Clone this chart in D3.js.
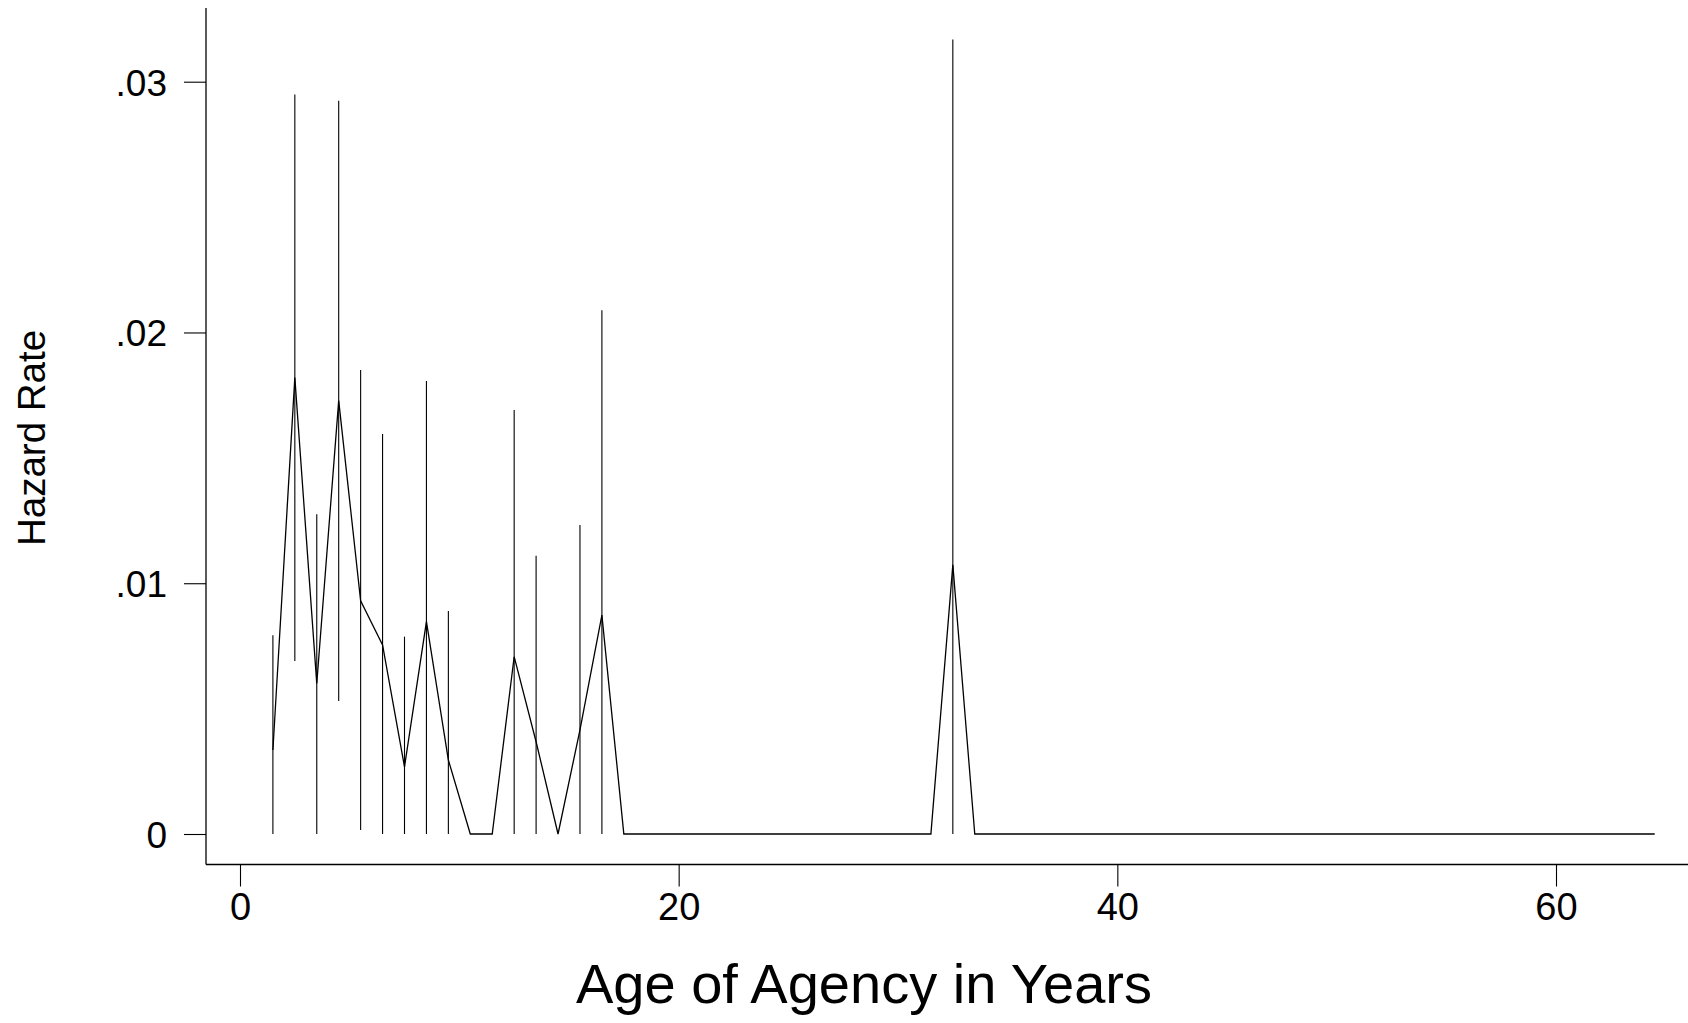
<!DOCTYPE html>
<html>
<head>
<meta charset="utf-8">
<script src="https://cdn.jsdelivr.net/npm/d3@7"></script>
<style>
  html, body { margin: 0; padding: 0; background: #fff; }
  svg { display: block; }
  text { font-family: "Liberation Sans", Arial, Helvetica, sans-serif; fill: #000; }
</style>
</head>
<body>
<svg id="chart" width="1688" height="1023"></svg>
<script>
// Life-table hazard estimates (interval midpoints)
const ages   = [1.5, 2.5, 3.5, 4.5, 5.5, 6.5, 7.5, 8.5, 9.5, 10.5, 11.5, 12.5, 13.5, 14.5, 15.5, 16.5, 17.5, 31.5, 32.5, 33.5, 64.5];
const hazard = [0.00335, 0.0182, 0.0060, 0.01728, 0.0093, 0.00754, 0.00268, 0.00847, 0.00295, 0, 0, 0.00707, 0.00368, 0, 0.00415, 0.00873, 0, 0, 0.01073, 0, 0];
// 95% confidence bounds (null = no interval drawn)
const ciLow  = [0, 0.0069, 0, 0.0053, 0.00016, 0, 0, 0, 0, null, null, 0, 0, null, 0, 0, null, null, 0, null, null];
const ciHigh = [0.00793, 0.02949, 0.01275, 0.02924, 0.0185, 0.01595, 0.00787, 0.01806, 0.00889, null, null, 0.01691, 0.0111, null, 0.01232, 0.02089, null, null, 0.03168, null, null];

const xTicks = [0, 20, 40, 60];
const yTicks = [0, 0.01, 0.02, 0.03];
const yTickLabels = ["0", ".01", ".02", ".03"];
const xTitle = "Age of Agency in Years";
const yTitle = "Hazard Rate";

const svg = d3.select("#chart");
svg.append("rect").attr("width", 1688).attr("height", 1023).attr("fill", "#fff");

const x = d3.scaleLinear().domain([0, 60]).range([240, 1556]);
const y = d3.scaleLinear().domain([0, 0.03]).range([834, 81.7]);

const axisX = 206, axisY = 864.5;

// Y axis
const gy = svg.append("g").attr("transform", `translate(${axisX},0)`)
  .call(d3.axisLeft(y).tickValues(yTicks).tickFormat((d, i) => yTickLabels[i]).tickSize(22).tickPadding(17));
gy.select(".domain").remove();
gy.selectAll(".tick line").attr("stroke", "#000").attr("stroke-width", 1.1);
gy.selectAll(".tick text").attr("font-size", 37).attr("font-family", "Liberation Sans, Arial, sans-serif").attr("fill", "#000").attr("dy", "0.36em");
svg.append("line").attr("x1", axisX).attr("x2", axisX).attr("y1", 8).attr("y2", axisY)
  .attr("stroke", "#000").attr("stroke-width", 1.3);

// X axis
const gx = svg.append("g").attr("transform", `translate(0,${axisY})`)
  .call(d3.axisBottom(x).tickValues(xTicks).tickFormat(d3.format("d")).tickSize(22).tickPadding(4));
gx.select(".domain").remove();
gx.selectAll(".tick line").attr("stroke", "#000").attr("stroke-width", 1.1);
gx.selectAll(".tick text").attr("font-size", 38).attr("font-family", "Liberation Sans, Arial, sans-serif").attr("fill", "#000").attr("dy", "0.78em");
svg.append("line").attr("x1", axisX).attr("x2", 1688).attr("y1", axisY).attr("y2", axisY)
  .attr("stroke", "#000").attr("stroke-width", 1.6);

// CI spikes
const ciData = ages.map((a, i) => ({a, lo: ciLow[i], hi: ciHigh[i]})).filter(d => d.hi !== null);
svg.append("g").selectAll("line").data(ciData).join("line")
  .attr("x1", d => x(d.a)).attr("x2", d => x(d.a))
  .attr("y1", d => y(d.lo)).attr("y2", d => y(d.hi))
  .attr("stroke", "#000").attr("stroke-width", 1.1);

// Hazard line
const pts = ages.map((a, i) => [a, hazard[i]]);
svg.append("path").datum(pts)
  .attr("fill", "none").attr("stroke", "#000").attr("stroke-width", 1.3)
  .attr("d", d3.line().x(d => x(d[0])).y(d => y(d[1])));

// Titles
svg.append("text").attr("x", 864).attr("y", 1003).attr("text-anchor", "middle")
  .attr("font-size", 56).text(xTitle);
svg.append("text").attr("transform", "translate(45,438) rotate(-90)").attr("text-anchor", "middle")
  .attr("font-size", 38.5).text(yTitle);
</script>
</body>
</html>
